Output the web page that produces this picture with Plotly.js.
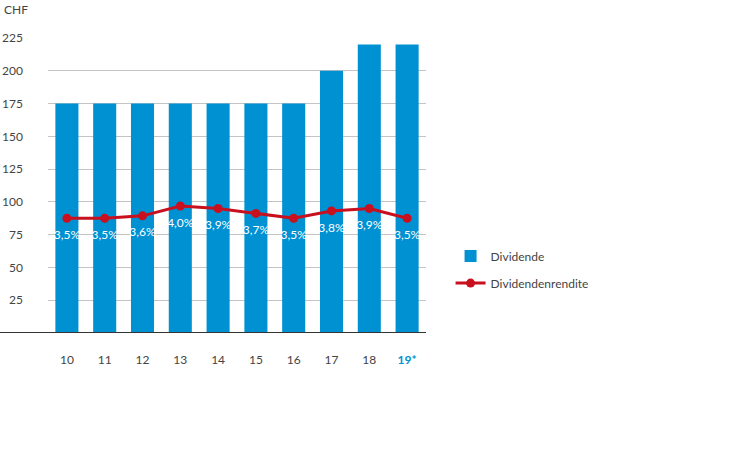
<!DOCTYPE html>
<html>
<head>
<meta charset="utf-8">
<script src="https://cdn.plot.ly/plotly-3.0.1.min.js"></script>
<style>html,body{margin:0;padding:0;background:#fff;}#chart{width:750px;height:469px;}</style>
</head>
<body>
<div id="chart"></div>
<script>
const years = ['10', '11', '12', '13', '14', '15', '16', '17', '18', '19'];
const yearLabels = ['10', '11', '12', '13', '14', '15', '16', '17', '18', '<b><span style="color:#0091d3">19*</span></b>'];
const dividende = [175, 175, 175, 175, 175, 175, 175, 200, 220, 220];
const rendite = [3.5, 3.5, 3.6, 4.0, 3.9, 3.7, 3.5, 3.8, 3.9, 3.5];
const yTicks = [25, 50, 75, 100, 125, 150, 175, 200, 225];

const blue = '#0091d3';
const red = '#c8101e';
const textGrey = '#444444';

const traces = [
  {
    type: 'bar',
    name: 'Dividende',
    legendgroup: 'a',
    x: years,
    y: dividende,
    marker: {color: blue},
    hoverinfo: 'skip'
  },
  {
    type: 'scatter',
    mode: 'lines+markers',
    name: 'Dividendenrendite',
    legendgroup: 'b',
    x: years,
    y: rendite,
    yaxis: 'y2',
    line: {color: red, width: 3},
    marker: {color: red, size: 9},
    hoverinfo: 'skip'
  },
  {
    type: 'scatter',
    mode: 'markers+text',
    showlegend: false,
    x: years,
    y: rendite,
    yaxis: 'y2',
    marker: {color: 'rgba(0,0,0,0)', size: 17},
    text: rendite.map(v => v.toFixed(1).replace('.', ',') + '%'),
    textposition: 'bottom center',
    textfont: {color: '#ffffff', size: 12, family: 'Lato, sans-serif'},
    hoverinfo: 'skip'
  }
];

const layout = {
  width: 750,
  height: 469,
  margin: {l: 48, r: 324, t: 38, b: 136, autoexpand: false},
  paper_bgcolor: '#ffffff',
  plot_bgcolor: '#ffffff',
  font: {family: 'Lato, sans-serif', size: 12, color: textGrey},
  bargap: 0.39,
  showlegend: true,
  legend: {
    x: 1.065, y: 0.215, xanchor: 'left', yanchor: 'middle',
    font: {size: 12, color: textGrey},
    itemwidth: 30,
    traceorder: 'grouped',
    tracegroupgap: 8,
    bgcolor: 'rgba(0,0,0,0)'
  },
  xaxis: {
    type: 'category',
    range: [-0.5, 9.5],
    tickmode: 'array',
    tickvals: years,
    ticktext: yearLabels,
    ticks: '',
    ticklabelstandoff: 18,
    showgrid: false,
    zeroline: false,
    showline: false,
    tickfont: {size: 12, color: textGrey},
    fixedrange: true
  },
  yaxis: {
    range: [0, 225],
    tickmode: 'array',
    tickvals: yTicks,
    ticks: '',
    ticklabelstandoff: 24,
    showgrid: true,
    gridcolor: '#c4c4c4',
    gridwidth: 1,
    zeroline: false,
    showline: false,
    tickfont: {size: 12, color: textGrey},
    fixedrange: true
  },
  yaxis2: {
    overlaying: 'y',
    side: 'right',
    range: [-1.166, 10.834],
    visible: false,
    showgrid: false,
    zeroline: false,
    fixedrange: true
  },
  shapes: [
    {
      type: 'line', xref: 'paper', yref: 'y',
      x0: -48 / 378, x1: 1, y0: 0, y1: 0,
      line: {color: '#333333', width: 2}
    }
  ],
  annotations: [
    {
      text: 'CHF', xref: 'paper', yref: 'paper',
      x: -46 / 378, y: 1 + 28 / 295, xanchor: 'left', yanchor: 'middle',
      showarrow: false, font: {size: 12, color: textGrey}
    }
  ]
};

Plotly.newPlot('chart', traces, layout, {displayModeBar: false, staticPlot: true});
</script>
</body>
</html>
